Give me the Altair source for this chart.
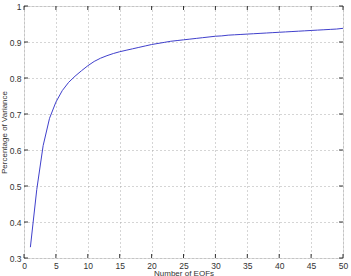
import altair as alt
import pandas as pd

n_eofs = list(range(1, 51))
variance = [0.33, 0.49, 0.612, 0.688, 0.733, 0.765, 0.788, 0.805, 0.82, 0.834,
            0.846, 0.855, 0.862, 0.868, 0.873, 0.877, 0.881, 0.885, 0.889, 0.893,
            0.896, 0.899, 0.902, 0.904, 0.906, 0.908, 0.910, 0.912, 0.914, 0.916,
            0.917, 0.919, 0.920, 0.921, 0.922, 0.923, 0.924, 0.925, 0.926, 0.927,
            0.928, 0.929, 0.930, 0.931, 0.932, 0.933, 0.934, 0.935, 0.936, 0.938]
x_ticks = [0, 5, 10, 15, 20, 25, 30, 35, 40, 45, 50]
y_ticks = [0.3, 0.4, 0.5, 0.6, 0.7, 0.8, 0.9, 1.0]

df = pd.DataFrame({"n": n_eofs, "v": variance})
W, H = 319, 252
FONT = "Liberation Sans"

xs = alt.Scale(domain=[0, 50], nice=False)
ys = alt.Scale(domain=[0.3, 1.0], nice=False, zero=False)

common = dict(grid=True, gridDash=[1, 3], gridColor="#aaaaaa", tickSize=0,
              domain=False, labelFontSize=8.5, titleFontSize=8,
              titleFontWeight="normal", labelFont=FONT, titleFont=FONT,
              labelColor="#333333", titleColor="#333333",
              labelOverlap=False, labelFlush=False)
x_axis = alt.Axis(values=x_ticks, format="d", labelPadding=3,
                  titlePadding=0, **common)
y_axis = alt.Axis(values=y_ticks, format="~g", labelPadding=3,
                  titlePadding=1, **common)
XT = "Number of EOFs"
YT = "Percentage of Variance"

line = alt.Chart(df).mark_line(color="#4040cc", strokeWidth=1).encode(
    x=alt.X("n:Q", scale=xs, title=XT, axis=x_axis),
    y=alt.Y("v:Q", scale=ys, title=YT, axis=y_axis),
)

xt = pd.DataFrame({"t": x_ticks})
yt = pd.DataFrame({"t": y_ticks})
tick_b = alt.Chart(xt).mark_rule(color="black", strokeWidth=0.8).encode(
    x=alt.X("t:Q", scale=xs, title=XT, axis=x_axis), y=alt.value(H), y2=alt.value(H - 4))
tick_t = alt.Chart(xt).mark_rule(color="black", strokeWidth=0.8).encode(
    x=alt.X("t:Q", scale=xs, title=XT, axis=x_axis), y=alt.value(0), y2=alt.value(4))
tick_l = alt.Chart(yt).mark_rule(color="black", strokeWidth=0.8).encode(
    y=alt.Y("t:Q", scale=ys, title=YT, axis=y_axis), x=alt.value(0), x2=alt.value(4))
tick_r = alt.Chart(yt).mark_rule(color="black", strokeWidth=0.8).encode(
    y=alt.Y("t:Q", scale=ys, title=YT, axis=y_axis), x=alt.value(W), x2=alt.value(W - 4))

chart = alt.layer(line, tick_b, tick_t, tick_l, tick_r).properties(
    width=W, height=H,
    autosize=alt.AutoSizeParams(type="none"),
    padding={"left": 24, "top": 6, "right": 8, "bottom": 18},
).configure_view(stroke="black", strokeWidth=1).configure(background="white")

chart.save("out.html", embed_options={"renderer": "svg", "actions": False})
